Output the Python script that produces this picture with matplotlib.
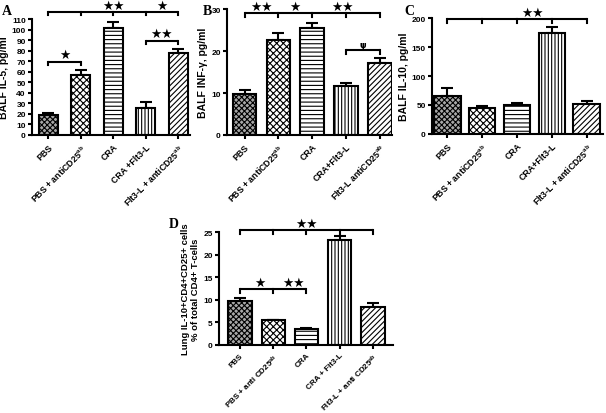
import matplotlib
matplotlib.use('Agg')
import matplotlib.pyplot as plt

plt.rcParams['font.family'] = ['Liberation Sans', 'DejaVu Sans']
plt.rcParams['font.weight'] = 'bold'
plt.rcParams['mathtext.fontset'] = 'custom'
plt.rcParams['mathtext.bf'] = 'Liberation Sans:bold'
plt.rcParams['mathtext.rm'] = 'Liberation Sans:bold'
plt.rcParams['mathtext.default'] = 'bf'
plt.rcParams['hatch.linewidth'] = 0.8

# Panel A - BALF IL-5
labels_a = ['PBS', r'PBS + antiCD25$^{ab}$', 'CRA', 'CRA +Flt3-L', r'Flt3-L + antiCD25$^{ab}$']
vals_a = [19, 57, 102, 26, 77.5]
err_a = [1.5, 5, 5, 5.5, 4.5]

# Panel B - BALF INF-gamma
labels_b = ['PBS', r'PBS + antiCD25$^{ab}$', 'CRA', 'CRA+Flt3-L', r'Flt3-L antiCD25$^{ab}$']
vals_b = [9.8, 22.7, 25.4, 11.6, 17.2]
err_b = [0.8, 1.5, 1.2, 0.8, 1.2]

# Panel C - BALF IL-10
labels_c = ['PBS', r'PBS + antiCD25$^{ab}$', 'CRA', 'CRA+Flt3-L', r'Flt3-L + antiCD25$^{ab}$']
vals_c = [66, 45, 50, 174, 51]
err_c = [13, 3, 4, 10, 6]

# Panel D - lung IL-10+CD4+CD25+ cells
labels_d = ['PBS', r'PBS + anti CD25$^{ab}$', 'CRA', 'CRA + Flt3-L', r'Flt3-L + anti CD25$^{ab}$']
vals_d = [9.7, 5.4, 3.4, 23.3, 8.4]
err_d = [0.6, 0.2, 0.3, 0.8, 0.8]

hatches = ['xxxxxx', 'xxxxx', '----', '|||||', '//////']
facecolors = ['#a8a8a8', 'white', 'white', 'white', 'white']

fig = plt.figure(figsize=(6.06, 4.14), dpi=100)


def panel(rect, vals, errs, labels, ylim, yticks, ylabel, xlim, width, letter, letter_xy,
          xlab_size=6.3, ylab_size=7.5):
    ax = fig.add_axes(rect)
    x = list(range(len(vals)))
    ax.bar(x, vals, width=width, color=facecolors, edgecolor='black',
           linewidth=1.5, zorder=2)
    for b, h in zip(ax.patches, hatches):
        b.set_hatch(h)
    ax.errorbar(x, vals, yerr=[[0] * len(errs), errs], fmt='none', ecolor='black',
                elinewidth=1.5, capsize=4, capthick=1.5, zorder=1)
    ax.set_xlim(*xlim)
    ax.set_ylim(*ylim)
    ax.set_yticks(yticks)
    ax.set_xticks(x)
    ax.set_xticklabels(labels, rotation=45, ha='right', rotation_mode='anchor',
                       fontsize=xlab_size)
    ax.tick_params(axis='y', labelsize=6, width=1.5, length=3, pad=1.5)
    ax.tick_params(axis='x', width=1.5, length=3, pad=2)
    for s in ['top', 'right']:
        ax.spines[s].set_visible(False)
    for s in ['left', 'bottom']:
        ax.spines[s].set_linewidth(1.5)
    ax.set_ylabel(ylabel, fontsize=ylab_size, fontweight='bold', labelpad=2)
    fig.text(letter_xy[0], letter_xy[1], letter, fontsize=10, fontweight='bold',
             family='Liberation Serif', va='center')
    return ax


def bracket(ax, xs, y, tick):
    ax.plot([xs[0], xs[-1]], [y, y], color='black', lw=1.5, clip_on=False,
            solid_capstyle='butt')
    for xi in xs:
        ax.plot([xi, xi], [y, y - tick], color='black', lw=1.5, clip_on=False)


def stars(ax, x, y, s, size=9):
    ax.text(x, y, s, ha='center', va='bottom', fontsize=size, family='DejaVu Sans',
            clip_on=False)


axA = panel([0.0528, 0.6715, 0.261, 0.280], vals_a, err_a, labels_a, (0, 110),
            range(0, 111, 10), 'BALF IL-5, pg/ml', (-0.5, 4.37), 0.58, 'A', (0.003, 0.972))
bracket(axA, [0, 1, 2, 3, 4], 117, 3)
stars(axA, 2, 117, '★★')
stars(axA, 3.5, 117, '★')
bracket(axA, [0, 1], 69, 3)
stars(axA, 0.5, 70, '★')
bracket(axA, [3, 4], 89, 3)
stars(axA, 3.5, 90, '★★')

axB = panel([0.3746, 0.6715, 0.272, 0.3043], vals_b, err_b, labels_b, (0, 30),
            [0, 10, 20, 30], 'BALF INF-γ, pg/ml', (-0.52, 4.36), 0.7, 'B', (0.335, 0.972))
bracket(axB, [0, 1, 2, 3, 4], 29, 0.8)
stars(axB, 0.5, 29, '★★')
stars(axB, 1.5, 29, '★')
stars(axB, 2.9, 29, '★★')
bracket(axB, [3, 4], 20.2, 0.8)
axB.text(3.5, 20.5, 'ψ', ha='center', va='bottom', fontsize=6, family='DejaVu Sans')

axC = panel([0.7129, 0.674, 0.2822, 0.280], vals_c, err_c, labels_c, (0, 200),
            [0, 50, 100, 150, 200], 'BALF IL-10, pg/ml', (-0.43, 4.46), 0.77, 'C', (0.668, 0.972))
bracket(axC, [0, 1, 2, 3, 4], 198, 6)
stars(axC, 2.43, 199, '★★')

axD = panel([0.3614, 0.165, 0.287, 0.2715], vals_d, err_d, labels_d, (0, 25),
            [0, 5, 10, 15, 20, 25], 'Lung IL-10+CD4+CD25+ cells\n% of total CD4+ T-cells',
            (-0.63, 4.6), 0.7, 'D', (0.278, 0.457), xlab_size=5.8, ylab_size=6.8)
bracket(axD, [0, 1, 2, 3, 4], 25.5, 0.8)
stars(axD, 2.0, 25.6, '★★')
bracket(axD, [0, 1, 2], 12.4, 0.8)
stars(axD, 0.6, 12.5, '★')
stars(axD, 1.6, 12.5, '★★')

fig.savefig('out.png', dpi=100)
